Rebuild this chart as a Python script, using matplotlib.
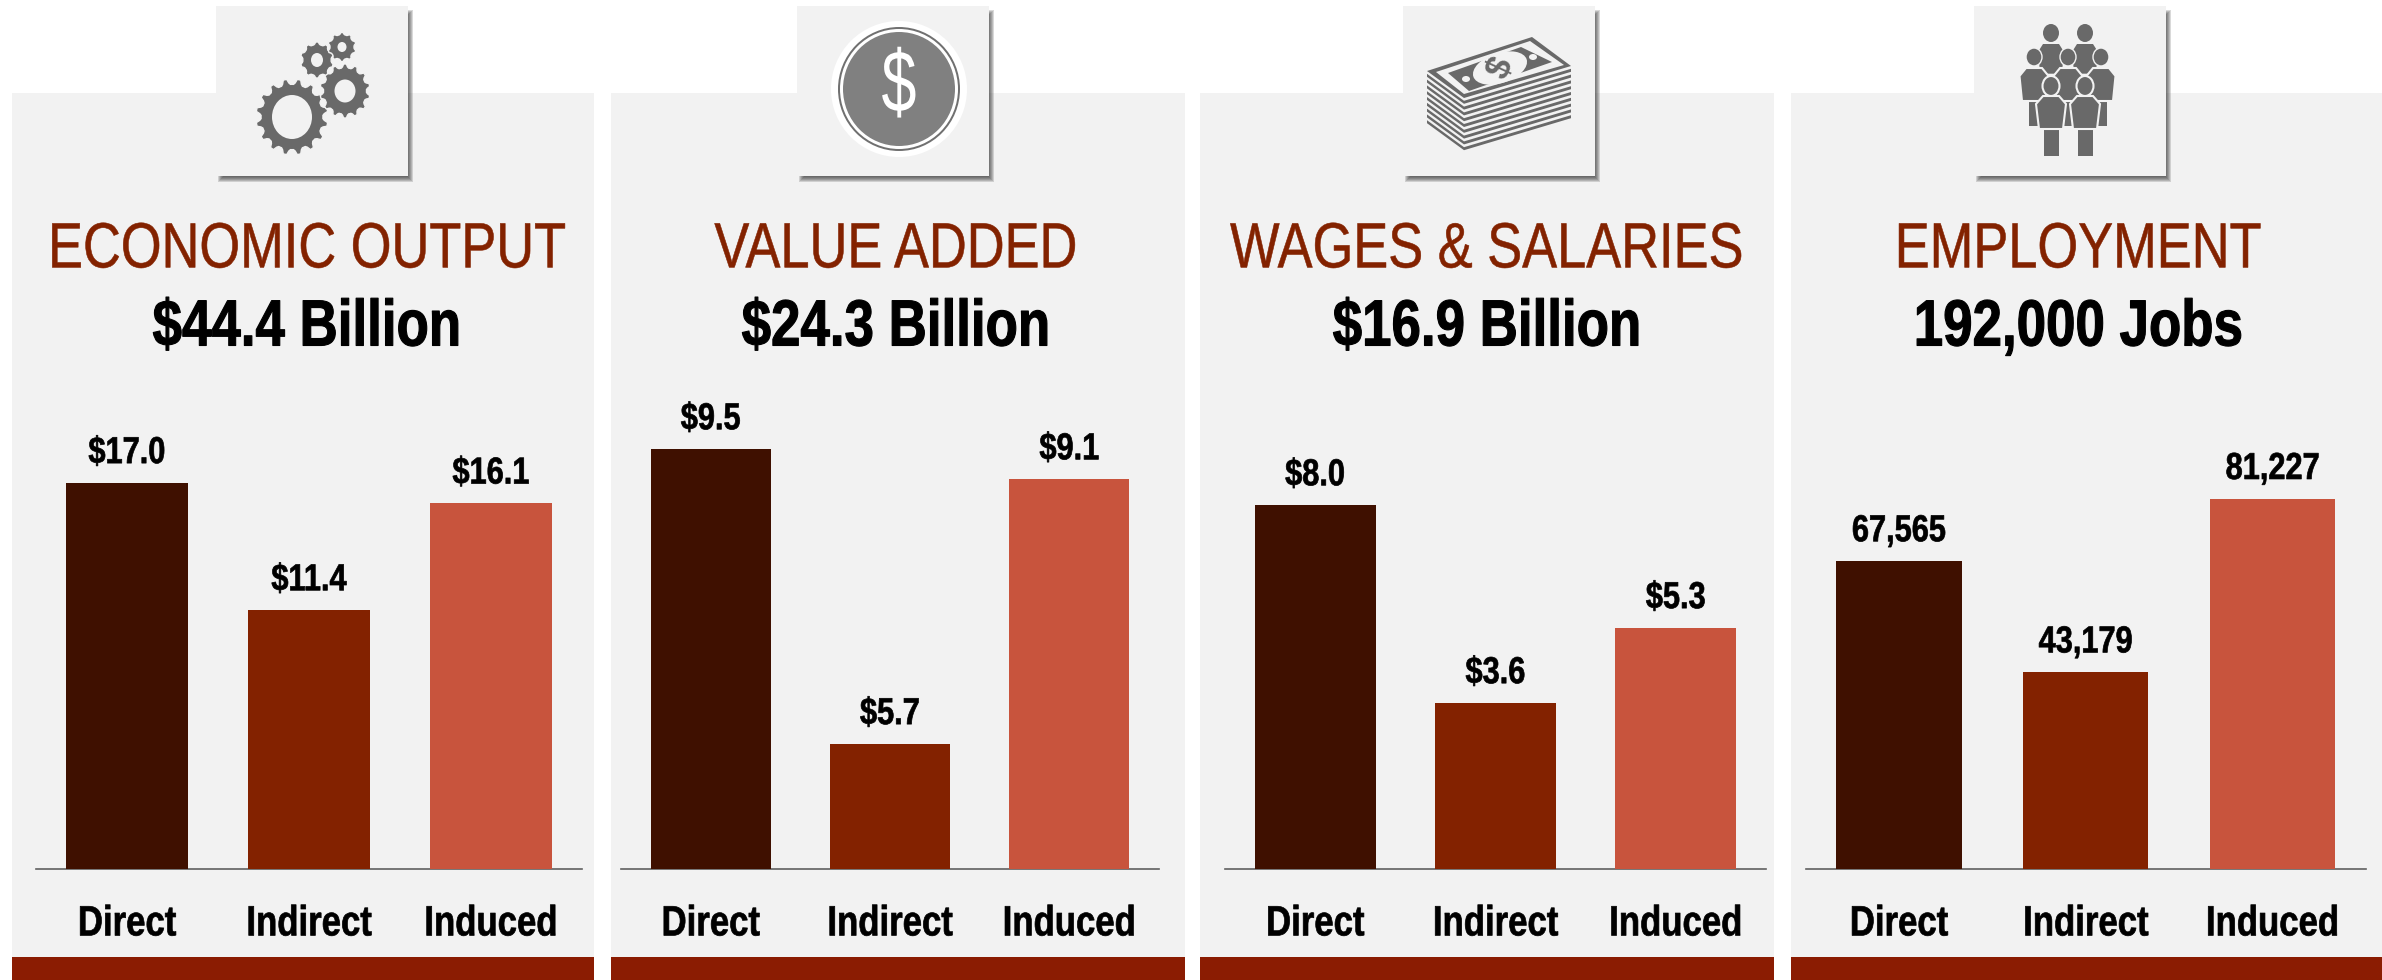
import numpy as np
import matplotlib
matplotlib.use("Agg")
import matplotlib.pyplot as plt
from matplotlib.patches import Rectangle, Ellipse, Polygon
from matplotlib.patheffects import AbstractPathEffect
from matplotlib.transforms import Affine2D, Bbox

W, H = 2382, 980

titles = ["ECONOMIC OUTPUT", "VALUE ADDED", "WAGES & SALARIES", "EMPLOYMENT"]
totals = ["$44.4 Billion", "$24.3 Billion", "$16.9 Billion", "192,000 Jobs"]
categories = ["Direct", "Indirect", "Induced"]

# bar heights as drawn in the picture, the printed figures are kept apart below
output_values = [17.0, 11.4, 16.1]
added_values = [9.5, 2.83, 8.82]  # source draws $5.7 and $9.1 shorter than their labels
wages_values = [8.0, 3.65, 5.3]
jobs_values = [67565, 43179, 81227]

output_labels = ["$17.0", "$11.4", "$16.1"]
added_labels = ["$9.5", "$5.7", "$9.1"]
wages_labels = ["$8.0", "$3.6", "$5.3"]
jobs_labels = ["67,565", "43,179", "81,227"]

all_values = [output_values, added_values, wages_values, jobs_values]
all_labels = [output_labels, added_labels, wages_labels, jobs_labels]
y_tops = [20.65, 10.61, 10.31, 102900]

panel_x = [(12, 594), (611, 1185), (1200, 1774), (1791, 2382)]
axis_x = [(36, 582), (621, 1159), (1225, 1766), (1805.5, 2366)]
icon_x = [216, 797, 1403, 1974]
text_x = [307, 896, 1487, 2078]

bar_colors = ["#3f1000", "#832200", "#c8543d"]
panel_color = "#f2f2f2"
band_color = "#8b1c02"
icon_color = "#696969"

plt.rcParams["font.family"] = ["Liberation Sans", "DejaVu Sans"]

fig = plt.figure(figsize=(W / 100, H / 100), dpi=100, facecolor="white")
bg = fig.add_axes([0, 0, 1, 1])
bg.set_xlim(0, W)
bg.set_ylim(H, 0)
bg.axis("off")


class Squeeze(AbstractPathEffect):
    # the source type is Arial pressed sideways, no condensed face is installed
    def __init__(self, k, sy=1.0, stroke=0.0):
        super().__init__()
        self.k = k
        self.sy = sy
        self.stroke = stroke

    def draw_path(self, renderer, gc, tpath, affine, rgbFace=None):
        ext = affine.transform_path(tpath).get_extents()
        cx = (ext.x0 + ext.x1) / 2
        cy = (ext.y0 + ext.y1) / 2
        squeeze = Affine2D().translate(-cx, -cy).scale(self.k, self.sy).translate(cx, cy)
        gc0 = renderer.new_gc()
        gc0.copy_properties(gc)
        if self.stroke:
            gc0.set_foreground(rgbFace)
            gc0.set_linewidth(self.stroke)
        renderer.draw_path(gc0, tpath, affine + squeeze, rgbFace)
        gc0.restore()


def narrow(t, k=0.82, sy=1.0, stroke=0.0):
    t.set_path_effects([Squeeze(k, sy, stroke)])
    full_extent = t.get_window_extent

    def extent(renderer=None, dpi=None):
        bb = full_extent(renderer, dpi)
        cx = (bb.x0 + bb.x1) / 2
        return Bbox.from_extents(cx - bb.width * k / 2, bb.y0, cx + bb.width * k / 2, bb.y1)

    t.get_window_extent = extent
    return t


def gear(cx, cy, rx, ry, hole, teeth):
    # outline of a cog wheel, teeth are just a radius that steps up and down
    ang = np.linspace(0, 2 * np.pi, teeth * 8, endpoint=False)
    step = np.array([0.86, 0.86, 0.9, 1.0, 1.0, 1.0, 0.9, 0.86] * teeth)
    pts = np.column_stack([cx + rx * step * np.cos(ang), cy + ry * step * np.sin(ang)])
    bg.add_patch(Polygon(pts, fc=icon_color, ec=panel_color, lw=1, zorder=5))
    bg.add_patch(Ellipse((cx, cy), hole[0] * 2, hole[1] * 2, fc=panel_color, ec="none", zorder=6))


def person(cx, top, scale, legw, edge):
    # body then legs, measured from the shoulder line
    body = [(-8, 0), (8, 0), (14.5 * scale, 8), (12 * scale, 33 * scale), (-12 * scale, 33 * scale), (-14.5 * scale, 8)]
    body = [(cx + x, top + y) for x, y in body]
    legs = Rectangle((cx - legw, top + 30 * scale), legw * 2, 28 * scale, fc=icon_color, ec="none", zorder=5)
    bg.add_patch(legs)
    bg.add_patch(Polygon(body, fc=icon_color, ec=edge, lw=1.5, zorder=5))


def draw_gears():
    gear(292, 117, 36, 38, (20, 22), 16)
    gear(345, 91, 25, 27, (10.5, 11.5), 14)
    gear(317, 60, 16.5, 18, (6, 7), 10)
    gear(342, 47, 14, 14.5, (4.5, 5), 10)


def draw_coin():
    cx, cy = 899, 89
    bg.add_patch(Ellipse((cx, cy), 136, 136, fc="white", ec="none", zorder=5))
    bg.add_patch(Ellipse((cx, cy), 122, 124, fc="#707070", ec="none", zorder=5))
    bg.add_patch(Ellipse((cx, cy), 118, 120, fc="white", ec="none", zorder=5))
    bg.add_patch(Ellipse((cx, cy), 112, 114, fc="#808080", ec="none", zorder=5))
    narrow(bg.text(cx, cy, "$", color="white", fontsize=63, ha="center", va="center", zorder=6), 0.72)


def draw_money():
    left, top, right, bottom = (1427, 71), (1532, 37), (1571, 66), (1464, 98)
    for k in range(9, 0, -1):
        dy = k * 5.8
        pts = [(left[0], left[1] + dy), (bottom[0], bottom[1] + dy), (right[0], right[1] + dy),
               (right[0], right[1] + dy - 3), (bottom[0], bottom[1] + dy - 3), (left[0], left[1] + dy - 3)]
        bg.add_patch(Polygon(pts, fc=icon_color, ec="none", zorder=5))
    bg.add_patch(Polygon([left, top, right, bottom], fc=icon_color, ec="none", zorder=5))
    bg.add_patch(Polygon([(1436, 72), (1530, 41), (1564, 65), (1464, 94)], fc=panel_color, ec="none", zorder=5))
    bg.add_patch(Polygon([(1448, 73), (1521, 47), (1552, 62), (1469, 91)], fc=icon_color, ec="none", zorder=5))
    bg.add_patch(Ellipse((1500, 68), 56, 30, angle=-18, fc=panel_color, ec="none", zorder=6))
    for dot in [(1466, 79), (1533, 57)]:
        bg.add_patch(Ellipse(dot, 8, 6, fc=panel_color, ec="none", zorder=6))
    bg.text(1500, 68, "$", color=icon_color, fontsize=25, fontweight="bold", rotation=65, ha="center", va="center", zorder=7)


def draw_people():
    for cx in (2051, 2085):
        person(cx, 44, 0.9, 0, "none")
        bg.add_patch(Ellipse((cx, 33), 16, 18, fc=icon_color, ec="none", zorder=5))
    for cx in (2034, 2068, 2101):
        person(cx, 68, 1.0, 5.5, panel_color)
        bg.add_patch(Ellipse((cx, 57), 16, 18, fc=icon_color, ec=panel_color, lw=1, zorder=5))
    for cx in (2051, 2085):
        bg.add_patch(Ellipse((cx, 86), 17, 20, fc=icon_color, ec=panel_color, lw=1.5, zorder=6))
        body = [(cx - 8, 96), (cx + 8, 96), (cx + 15, 104), (cx + 12, 129), (cx - 12, 129), (cx - 15, 104)]
        bg.add_patch(Rectangle((cx - 7.5, 125), 15, 31, fc=icon_color, ec="none", zorder=6))
        bg.add_patch(Polygon(body, fc=icon_color, ec=panel_color, lw=1.5, zorder=6))


for i in range(4):
    x0, x1 = panel_x[i]
    bg.add_patch(Rectangle((x0, 93), x1 - x0, H - 93, fc=panel_color, ec="none", zorder=1))
    bg.add_patch(Rectangle((x0, 957), x1 - x0, H - 957, fc=band_color, ec="none", zorder=2))

    # soft shadow under the icon box, stacked see-through rectangles
    ix = icon_x[i]
    for grow in [3, 2, 1, 0, -1, -2, -3]:
        bg.add_patch(Rectangle((ix + 5 - grow, 13 - grow), 189 + grow * 2, 166 + grow * 2,
                               fc="#303030", ec="none", alpha=0.18, zorder=3))
    bg.add_patch(Rectangle((ix, 6), 192, 170, fc=panel_color, ec="none", zorder=4))

    # smaller nominal size stretched back up, so the title box stays inside the figure
    narrow(bg.text(text_x[i], 244, titles[i], color=bar_colors[1], fontsize=41, ha="center", va="center_baseline", zorder=5),
           0.92, 46 / 41, 0.4)
    narrow(bg.text(text_x[i], 322, totals[i], color="black", fontsize=47, fontweight="bold", ha="center", va="center_baseline", zorder=5),
           0.81, 1.0, 0.8)

    # the bars get their own axes so the baseline is the bottom spine
    ax0, ax1 = axis_x[i]
    ax = fig.add_axes([ax0 / W, (H - 869) / H, (ax1 - ax0) / W, 469 / H], facecolor="none")
    bars = ax.bar(range(3), all_values[i], width=0.67, color=bar_colors, zorder=3)
    for lab in ax.bar_label(bars, labels=all_labels[i], padding=8.5, fontsize=27, fontweight="bold", color="black"):
        narrow(lab, 0.82, 1.0, 0.5)
    ax.set_xlim(-0.5, 2.5)
    ax.set_ylim(0, y_tops[i])
    ax.set_yticks([])
    ax.set_xticks(range(3))
    ax.set_xticklabels(categories, fontsize=30.5, fontweight="bold")
    for lab in ax.get_xticklabels():
        narrow(lab, 0.82, 1.0, 0.5)
    ax.tick_params(axis="x", length=0, pad=25.5)
    for side in ["top", "left", "right"]:
        ax.spines[side].set_visible(False)
    ax.spines["bottom"].set_color("#606060")
    ax.spines["bottom"].set_linewidth(1.2)

draw_gears()
draw_coin()
draw_money()
draw_people()

fig.savefig("out.png", dpi=100)
